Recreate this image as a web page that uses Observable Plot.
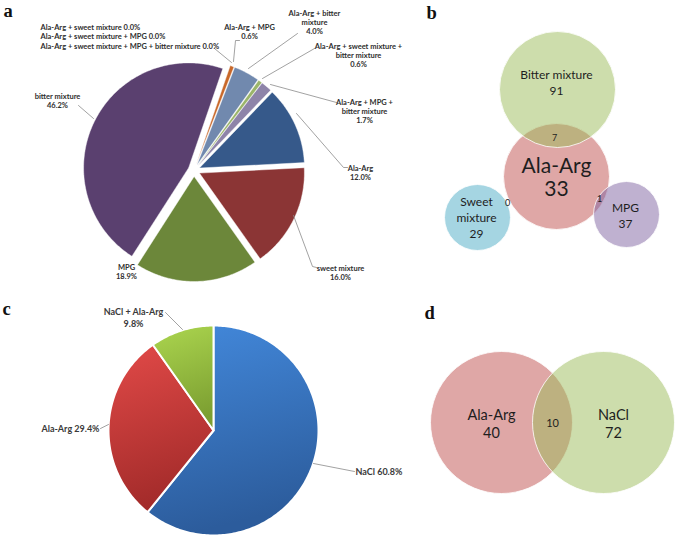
<!DOCTYPE html>
<html><head><meta charset="utf-8">
<script src="https://cdn.jsdelivr.net/npm/d3@7"></script>
<script src="https://cdn.jsdelivr.net/npm/@observablehq/plot@0.6"></script>
<style>body{margin:0;background:#fff}</style>
</head><body><div id="chart"></div>
<script>
// ---------- DATA ----------
// Panel a (pie, clockwise order)
const aCategories = ["Ala-Arg + MPG", "Ala-Arg + bitter mixture", "Ala-Arg + sweet mixture + bitter mixture",
  "Ala-Arg + MPG + bitter mixture", "Ala-Arg", "sweet mixture", "MPG", "bitter mixture",
  "Ala-Arg + sweet mixture", "Ala-Arg + sweet mixture + MPG", "Ala-Arg + sweet mixture + MPG + bitter mixture"];
const aValues = [0.6, 4.0, 0.6, 1.7, 12.0, 16.0, 18.9, 46.2, 0.0, 0.0, 0.0];
const aColors = ["#c8682a", "#7189ae", "#9bb56a", "#8e84a9", "#36598a", "#8b3535", "#6c873a", "#5a406f", "#999", "#999", "#999"];
// Panel c (pie)
const cCategories = ["NaCl", "Ala-Arg", "NaCl + Ala-Arg"];
const cValues = [60.8, 29.4, 9.8];
const cFills = ["url(#gBlue)", "url(#gRed)", "url(#gGreen)"];
// Panel b (Venn)
const bSets = ["Ala-Arg", "Bitter mixture", "MPG", "Sweet mixture"];
const bCounts = [33, 91, 37, 29];
const bSetColors = ["#c0504d", "#9bbb59", "#8064a2", "#4bacc6"];
const bOverlapNames = ["Ala-Arg & Bitter mixture", "Ala-Arg & Sweet mixture", "Ala-Arg & MPG"];
const bOverlapCounts = [7, 0, 1];
// Panel d (Venn)
const dSets = ["Ala-Arg", "NaCl"];
const dCounts = [40, 72];
const dSetColors = ["#c0504d", "#9bbb59"];
const dOverlapCount = 10;

// ---------- LAYOUT ----------
const pieA = {cx: 193.5, cy: 170, r: 105, start: 19 * Math.PI / 180, explode: 6};
const pieC = {cx: 213, cy: 430, r: 105, start: 0, explode: 0};
const bCircles = [{x: 556, y: 176, r: 53}, {x: 557, y: 89, r: 58}, {x: 626, y: 214, r: 33}, {x: 477, y: 217, r: 33}];
const dCircles = [{x: 501, y: 422, r: 71}, {x: 603, y: 422, r: 71}];

function wedges(values, {cx, cy, r, start, explode}) {
  const arcs = d3.pie().sort(null).startAngle(start).endAngle(start + 2 * Math.PI)(values);
  return arcs.map((a, i) => {
    const mid = (a.startAngle + a.endAngle) / 2;
    const ox = cx + explode * Math.sin(mid), oy = cy - explode * Math.cos(mid);
    const pts = [{x: ox, y: oy}];
    const n = Math.max(2, Math.ceil((a.endAngle - a.startAngle) / (Math.PI / 180)));
    for (let k = 0; k <= n; k++) {
      const t = a.startAngle + (a.endAngle - a.startAngle) * k / n;
      pts.push({x: ox + r * Math.sin(t), y: oy - r * Math.cos(t)});
    }
    pts.push({x: ox, y: oy});
    return {i, value: a.value, pts};
  });
}

const marks = [];
// Panel a slices
wedges(aValues, pieA).filter(s => s.value > 0).forEach(s =>
  marks.push(Plot.line(s.pts, {x: "x", y: "y", fill: aColors[s.i], stroke: "white", strokeWidth: 0.6, strokeOpacity: 0.7, curve: "linear"})));
// Panel c slices
wedges(cValues, pieC).forEach(s =>
  marks.push(Plot.line(s.pts, {x: "x", y: "y", fill: cFills[s.i], stroke: "white", strokeWidth: 2, curve: "linear"})));

// Panel a labels
const pct = v => v.toFixed(1) + "%";
const aLabels = [
  {x: 40, y: 27, t: `${aCategories[8]} ${pct(aValues[8])}`, a: "start"},
  {x: 40, y: 36, t: `${aCategories[9]} ${pct(aValues[9])}`, a: "start"},
  {x: 40, y: 45.5, t: `${aCategories[10]} ${pct(aValues[10])}`, a: "start"},
  {x: 249, y: 31.5, t: `Ala-Arg + MPG\n${pct(aValues[0])}`, a: "middle"},
  {x: 314, y: 22, t: `Ala-Arg + bitter\nmixture\n${pct(aValues[1])}`, a: "middle"},
  {x: 358, y: 55, t: `Ala-Arg + sweet mixture +\nbitter mixture\n${pct(aValues[2])}`, a: "middle"},
  {x: 364, y: 111, t: `Ala-Arg + MPG +\nbitter mixture\n${pct(aValues[3])}`, a: "middle"},
  {x: 360, y: 172, t: `${aCategories[4]}\n${pct(aValues[4])}`, a: "middle"},
  {x: 340, y: 272.5, t: `${aCategories[5]}\n${pct(aValues[5])}`, a: "middle"},
  {x: 126, y: 271.5, t: `${aCategories[6]}\n${pct(aValues[6])}`, a: "middle"},
  {x: 57, y: 100.5, t: `${aCategories[7]}\n${pct(aValues[7])}`, a: "middle"}
];
const aLeaders = [
  [[214, 48], [231, 62]],
  [[239, 40], [235, 40], [233, 61]],
  [[297, 33], [248, 68]],
  [[314, 48], [262, 78]],
  [[336, 102], [270, 84]],
  [[296, 113], [343, 167], [347, 167]],
  [[293, 215], [312, 266], [316, 267]],
  [[78, 105], [93, 118]]
];
const cLeaders = [
  [[165, 312], [182, 329]],
  [[100, 428], [108, 424]],
  [[313, 463], [354, 471]]
];
[...aLeaders, ...cLeaders].forEach(l =>
  marks.push(Plot.line(l.map(([x, y]) => ({x, y})), {x: "x", y: "y", stroke: "#8a8a8a", strokeWidth: 0.8})));

aLabels.forEach(d => marks.push(Plot.text([d], {x: "x", y: "y", text: "t", textAnchor: d.a, lineAnchor: "middle", lineHeight: 1.2,
  fontSize: 7.5, fontWeight: "bold", fill: "#2e2e2e"})));

// Panel c labels
const cLabels = [
  {x: 133, y: 317, t: `${cCategories[2]}\n${pct(cValues[2])}`, a: "middle"},
  {x: 99, y: 427.5, t: `${cCategories[1]} ${pct(cValues[1])}`, a: "end"},
  {x: 355, y: 471, t: `${cCategories[0]} ${pct(cValues[0])}`, a: "start"}
];
cLabels.forEach(d => marks.push(Plot.text([d], {x: "x", y: "y", text: "t", textAnchor: d.a, lineAnchor: "middle", lineHeight: 1.3,
  fontSize: 9, fontWeight: "bold", fill: "#3a3a3a"})));

// Venn circles (draw order: Ala-Arg, Bitter, MPG, Sweet)
bCircles.forEach((c, i) => marks.push(Plot.dot([c], {x: "x", y: "y", r: c.r, fill: bSetColors[i], fillOpacity: 0.5, stroke: "white", strokeWidth: 1, strokeOpacity: 0.8})));
dCircles.forEach((c, i) => marks.push(Plot.dot([c], {x: "x", y: "y", r: c.r, fill: dSetColors[i], fillOpacity: 0.5, stroke: "white", strokeWidth: 1, strokeOpacity: 0.8})));

const vennText = [
  {x: 556, y: 81, t: `${bSets[1]}\n${bCounts[1]}`, s: 12, lh: 1.35},
  {x: 556, y: 177, t: `${bSets[0]}\n${bCounts[0]}`, s: 21, lh: 1.1},
  {x: 625, y: 214, t: `${bSets[2]}\n${bCounts[2]}`, s: 12, lh: 1.35},
  {x: 476, y: 216.5, t: `Sweet\nmixture\n${bCounts[3]}`, s: 12, lh: 1.3},
  {x: 554, y: 138, t: `${bOverlapCounts[0]}`, s: 9, lh: 1},
  {x: 507, y: 203, t: `${bOverlapCounts[1]}`, s: 9, lh: 1},
  {x: 599, y: 199, t: `${bOverlapCounts[2]}`, s: 9, lh: 1},
  {x: 491, y: 423, t: `${dSets[0]}\n${dCounts[0]}`, s: 14.5, lh: 1.25},
  {x: 613, y: 423, t: `${dSets[1]}\n${dCounts[1]}`, s: 14.5, lh: 1.25},
  {x: 552, y: 422.5, t: `${dOverlapCount}`, s: 11, lh: 1}
];
vennText.forEach(v => marks.push(Plot.text([v], {x: "x", y: "y", text: "t", lineAnchor: "middle", fontSize: v.s, lineHeight: v.lh, fill: "#1e1e1e"})));

// Panel letters
const panelLetters = [{x: 3, y: 16.5, t: "a"}, {x: 426, y: 18, t: "b"}, {x: 2, y: 314, t: "c"}, {x: 424, y: 318, t: "d"}];
marks.push(Plot.text(panelLetters, {x: "x", y: "y", text: "t", textAnchor: "start", lineAnchor: "bottom",
  fontFamily: "Liberation Serif, serif", fontWeight: "bold", fontSize: 18.5, fill: "#111"}));

const plot = Plot.plot({
  width: 675, height: 537, margin: 0,
  x: {domain: [0, 675], range: [0, 675], axis: null},
  y: {domain: [0, 537], range: [0, 537], axis: null},
  style: {fontFamily: "Lato, sans-serif", background: "white"},
  marks
});

// gradients for panel c
const svgNS = "http://www.w3.org/2000/svg";
const defs = document.createElementNS(svgNS, "defs");
[["gBlue", "#4389dc", "#2c5c9c"], ["gRed", "#e24a48", "#a32b2a"], ["gGreen", "#acd64f", "#7c9f31"]].forEach(([id, c0, c1]) => {
  const g = document.createElementNS(svgNS, "linearGradient");
  g.setAttribute("id", id); g.setAttribute("x1", "0"); g.setAttribute("y1", "0"); g.setAttribute("x2", "0.2"); g.setAttribute("y2", "1");
  [[0, c0], [1, c1]].forEach(([o, c]) => {
    const s = document.createElementNS(svgNS, "stop");
    s.setAttribute("offset", o); s.setAttribute("stop-color", c); g.appendChild(s);
  });
  defs.appendChild(g);
});
plot.insertBefore(defs, plot.firstChild);
document.getElementById("chart").appendChild(plot);
</script></body></html>
